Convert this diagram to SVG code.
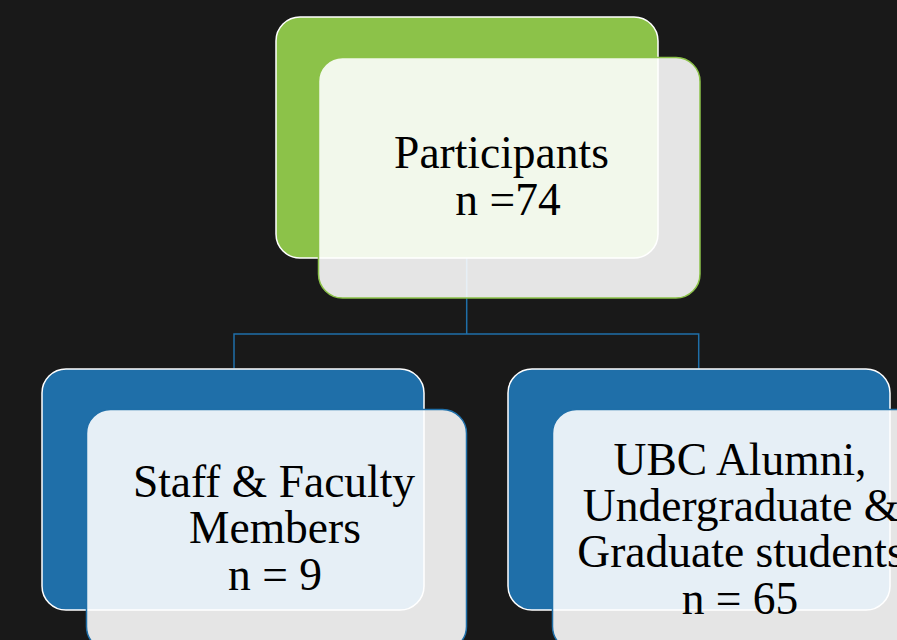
<svg xmlns="http://www.w3.org/2000/svg" width="897" height="640" viewBox="0 0 897 640">
<style>
.back{stroke:#ffffff;stroke-width:1.5}
.g{fill:#8cc249}
.b{fill:#1f6fa9}
.ov{fill:#ffffff;fill-opacity:0.89;stroke-width:1.5}
.ovg{stroke:#8cc249}
.ovb{stroke:#1f6fa9}
.t{font-family:"Liberation Serif","Times New Roman",serif;font-size:45.5px;fill:#000000;text-anchor:middle}
.conn{fill:none;stroke:#1f6fa9;stroke-width:1.5}
</style>
<rect x="0" y="0" width="897" height="640" fill="#191919"/>
<g id="connectors">
<path class="conn" d="M466.7,258 V334 M234,368.5 V334 H698.7 V368.5"/>
</g>
<g id="node-participants">
<rect class="back g" x="276" y="17" width="382" height="241" rx="24"/>
<rect class="ov ovg" x="318.5" y="57.5" width="381.5" height="240.5" rx="24"/>
<text class="t" x="501.5" y="168">Participants</text>
<text class="t" x="508" y="215">n =74</text>
</g>
<g id="node-staff">
<rect class="back b" x="42" y="369" width="382" height="241" rx="24"/>
<rect class="ov ovb" x="86.5" y="409.5" width="380" height="241" rx="24"/>
<text class="t" x="274" y="497">Staff &amp; Faculty</text>
<text class="t" x="275" y="543">Members</text>
<text class="t" x="275" y="590">n = 9</text>
</g>
<g id="node-students">
<rect class="back b" x="508" y="369" width="382" height="241" rx="24"/>
<rect class="ov ovb" x="552.5" y="409.5" width="381" height="241" rx="24"/>
<text class="t" x="740" y="475">UBC Alumni,</text>
<text class="t" x="741" y="521">Undergraduate &amp;</text>
<text class="t" x="741" y="567">Graduate students</text>
<text class="t" x="740" y="614">n = 65</text>
</g>
</svg>
